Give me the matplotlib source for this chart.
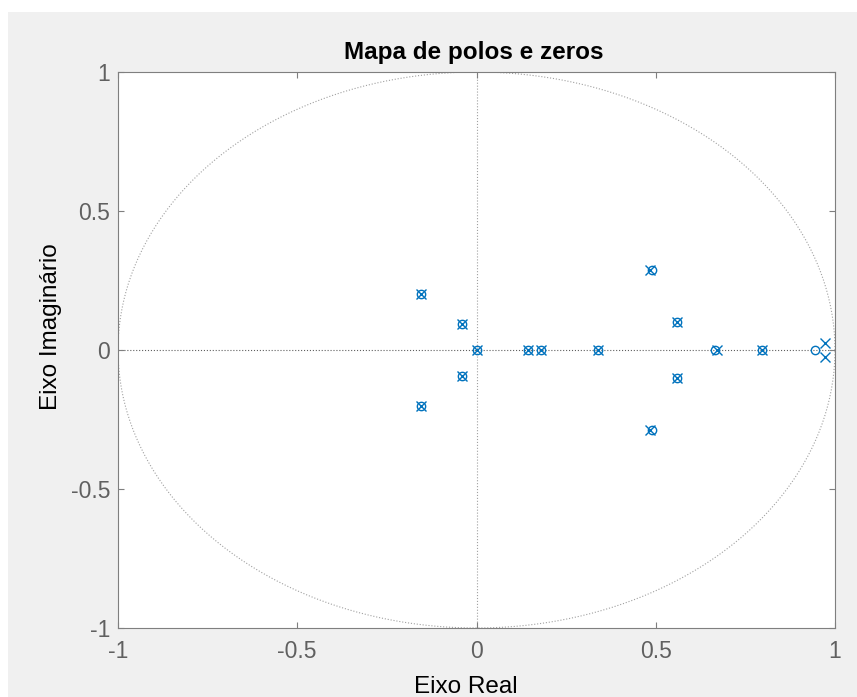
import numpy as np
import matplotlib
matplotlib.use("Agg")
import matplotlib.pyplot as plt
from matplotlib.patches import Rectangle

plt.rcParams['font.family'] = ['Liberation Sans', 'DejaVu Sans']
plt.rcParams['axes.unicode_minus'] = False

# zeros and poles of the system (real, imag)
zeros_re = [-0.155, -0.155, -0.040, -0.040, 0.0, 0.145, 0.179, 0.339,
            0.489, 0.489, 0.558, 0.558, 0.665, 0.796, 0.944]
zeros_im = [0.201, -0.201, 0.093, -0.093, 0.0, 0.0, 0.0, 0.0,
            0.286, -0.286, 0.101, -0.101, 0.0, 0.0, 0.0]
poles_re = [-0.155, -0.155, -0.040, -0.040, 0.0, 0.145, 0.179, 0.339,
            0.485, 0.485, 0.558, 0.558, 0.672, 0.796, 0.972, 0.972]
poles_im = [0.201, -0.201, 0.093, -0.093, 0.0, 0.0, 0.0, 0.0,
            0.286, -0.286, 0.101, -0.101, 0.0, 0.0, 0.024, -0.024]

ticks = [-1, -0.5, 0, 0.5, 1]
tick_labels = ['-1', '-0.5', '0', '0.5', '1']

W, H = 857, 697
fig = plt.figure(figsize=(W / 100, H / 100), dpi=100, facecolor='white')
# grey window background
fig.patches.append(Rectangle((8 / W, 0), 1, 1 - 12 / H, transform=fig.transFigure,
                             facecolor='#f0f0f0', edgecolor='none', zorder=-10))

ax = fig.add_axes([118 / W, 1 - 628 / H, (835 - 118) / W, (628 - 72) / H])
ax.set_facecolor('white')

blue = (0, 0.447, 0.741)

# unit circle and reference axes
t = np.linspace(0, 2 * np.pi, 400)
ax.plot(np.cos(t), np.sin(t), ':', color='#a0a0a0', lw=0.8, zorder=1)
ax.axhline(0, ls=':', color='#606060', lw=0.8, zorder=1)
ax.axvline(0, ls=':', color='#a0a0a0', lw=0.8, zorder=1)

ax.plot(zeros_re, zeros_im, 'o', mfc='none', mec=blue, ms=6, mew=1.0, zorder=3)
ax.plot(poles_re, poles_im, 'x', color=blue, ms=6.5, mew=1.0, zorder=3)

ax.set_xlim(-1, 1)
ax.set_ylim(-1, 1)
ax.set_xticks(ticks)
ax.set_xticklabels(tick_labels)
ax.set_yticks(ticks)
ax.set_yticklabels(tick_labels)
ax.tick_params(direction='in', length=4.5, width=0.8, color='#7f7f7f',
               labelcolor='#606060', labelsize=16.5, top=True, right=True)
ax.tick_params(axis='x', pad=9)
ax.tick_params(axis='y', pad=5.5)
for s in ax.spines.values():
    s.set_color('#7f7f7f')
    s.set_linewidth(0.8)

fig.text(474 / W, 1 - 59 / H, 'Mapa de polos e zeros', ha='center', va='baseline',
         fontsize=17.5, fontweight='bold', color='black')
fig.text(466 / W, 1 - 693 / H, 'Eixo Real', ha='center', va='baseline',
         fontsize=17.5, color='black')
fig.text(57.5 / W, 1 - 326.5 / H, 'Eixo Imaginário', ha='center', va='baseline',
         rotation=90, rotation_mode='anchor', fontsize=17.5, color='black')

fig.savefig('out.png', dpi=100, facecolor=fig.get_facecolor())
